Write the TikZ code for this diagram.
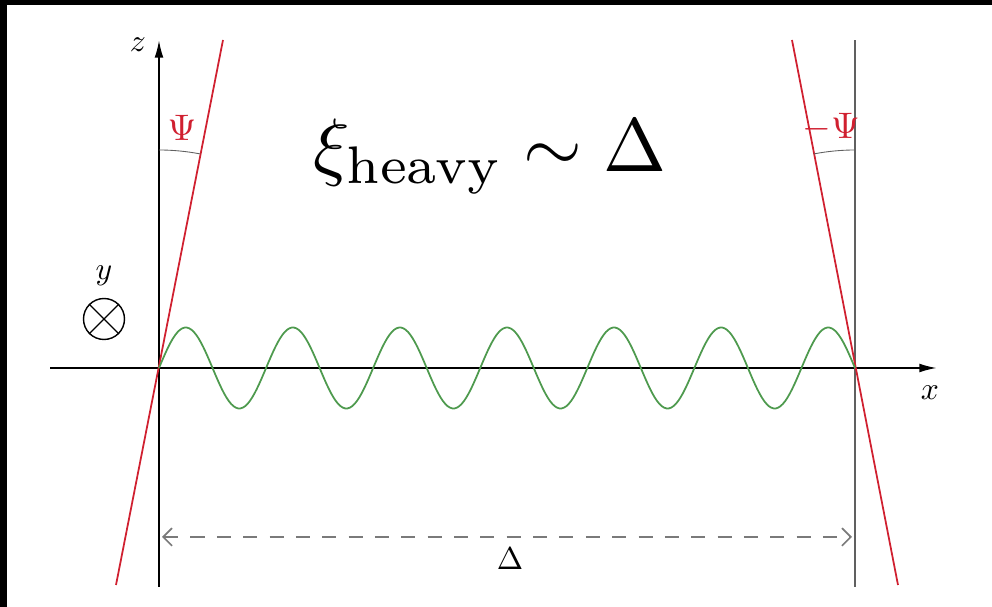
\documentclass[tikz,border=0pt]{standalone}
\usepackage{amsmath}
\usepackage{tikz}
\usetikzlibrary{arrows.meta}
\definecolor{WaveGreen}{HTML}{4E9A4E}
\definecolor{TiltRed}{HTML}{D02030}
\definecolor{LineGray}{HTML}{606060}
\definecolor{DimGray}{HTML}{7A7A7A}

\begin{document}
\begin{tikzpicture}[
  x=0.02cm, y=-0.02cm,
  axis/.style={line width=1.1pt, -{Latex[length=10pt,width=5pt]}},
  tilt/.style={line width=1pt, color=TiltRed},
  wall/.style={line width=0.7pt, color=LineGray},
  angarc/.style={line width=0.5pt, color=LineGray},
  wave/.style={line width=1pt, color=WaveGreen},
  lbl/.style={scale=1.8, inner sep=0pt},
  anglbl/.style={scale=2.1, inner sep=0pt, text=TiltRed},
  dim/.style={dash pattern=on 8pt off 7pt, line width=1pt, color=DimGray,
              {Straight Barb[length=5pt,width=10pt]}-{Straight Barb[length=5pt,width=10pt]}}
]
\useasboundingbox (0,0) rectangle (992,607);
\fill[black] (0,0) rectangle (992,5);
\fill[black] (0,0) rectangle (7,607);

% axes and the right wall
\coordinate (O)    at (159,368);
\coordinate (R)    at (855,368);
\coordinate (zbot) at (159,587);
\coordinate (ztop) at (159,40);
\coordinate (xbeg) at (50,368);
\coordinate (xend) at (937,368);
\coordinate (wtop) at (855,40);
\coordinate (wbot) at (855,587);
\draw[axis] (zbot) -- (ztop);
\draw[axis] (xbeg) -- (xend);
\draw[wall] (wbot) -- (wtop);

% tilted red lines
\coordinate (tLbot) at (116,585);
\coordinate (tLtop) at (223,40);
\coordinate (tRtop) at (792,40);
\coordinate (tRbot) at (898,585);
\draw[tilt] (tLbot) -- (tLtop);
\draw[tilt] (tRtop) -- (tRbot);

% angle arcs
\draw[angarc] (159,150) arc[start angle=90, end angle=79.1, radius=4.36cm];
\draw[angarc] (855,150) arc[start angle=90, end angle=100.9, radius=4.36cm];
\node[anglbl] (psiL) at (182,128) {$\Psi$};
\node[anglbl] (psiR) at (831,127) {$-\Psi$};

% wave, 6.5 periods between the walls
\draw[wave] plot[domain=159:855, samples=300] (\x, {368-40.5*sin(3.36207*(\x-159))});

% axis labels
\node[lbl] (zlab) at (138,45)  {$z$};
\node[lbl] (xlab) at (930,393) {$x$};
\node[lbl] (ylab) at (104,276) {$y$};
\node[circle, draw, line width=0.8pt, minimum size=0.82cm, inner sep=0pt] (ydir) at (104,319) {};
\draw[line width=0.8pt] (ydir.45) -- (ydir.225);
\draw[line width=0.8pt] (ydir.135) -- (ydir.315);

% distance between the walls
\coordinate (dL) at (162,537);
\coordinate (dR) at (852,537);
\draw[dim] (dL) -- (dR);
\node[lbl, anchor=base] (dlab) at (510,570) {$\Delta$};

% title
\node[scale=4.3, inner sep=0pt, anchor=base] (title) at (490,172)
  {$\xi_{\text{heavy}} \sim \Delta$};
\end{tikzpicture}
\end{document}
